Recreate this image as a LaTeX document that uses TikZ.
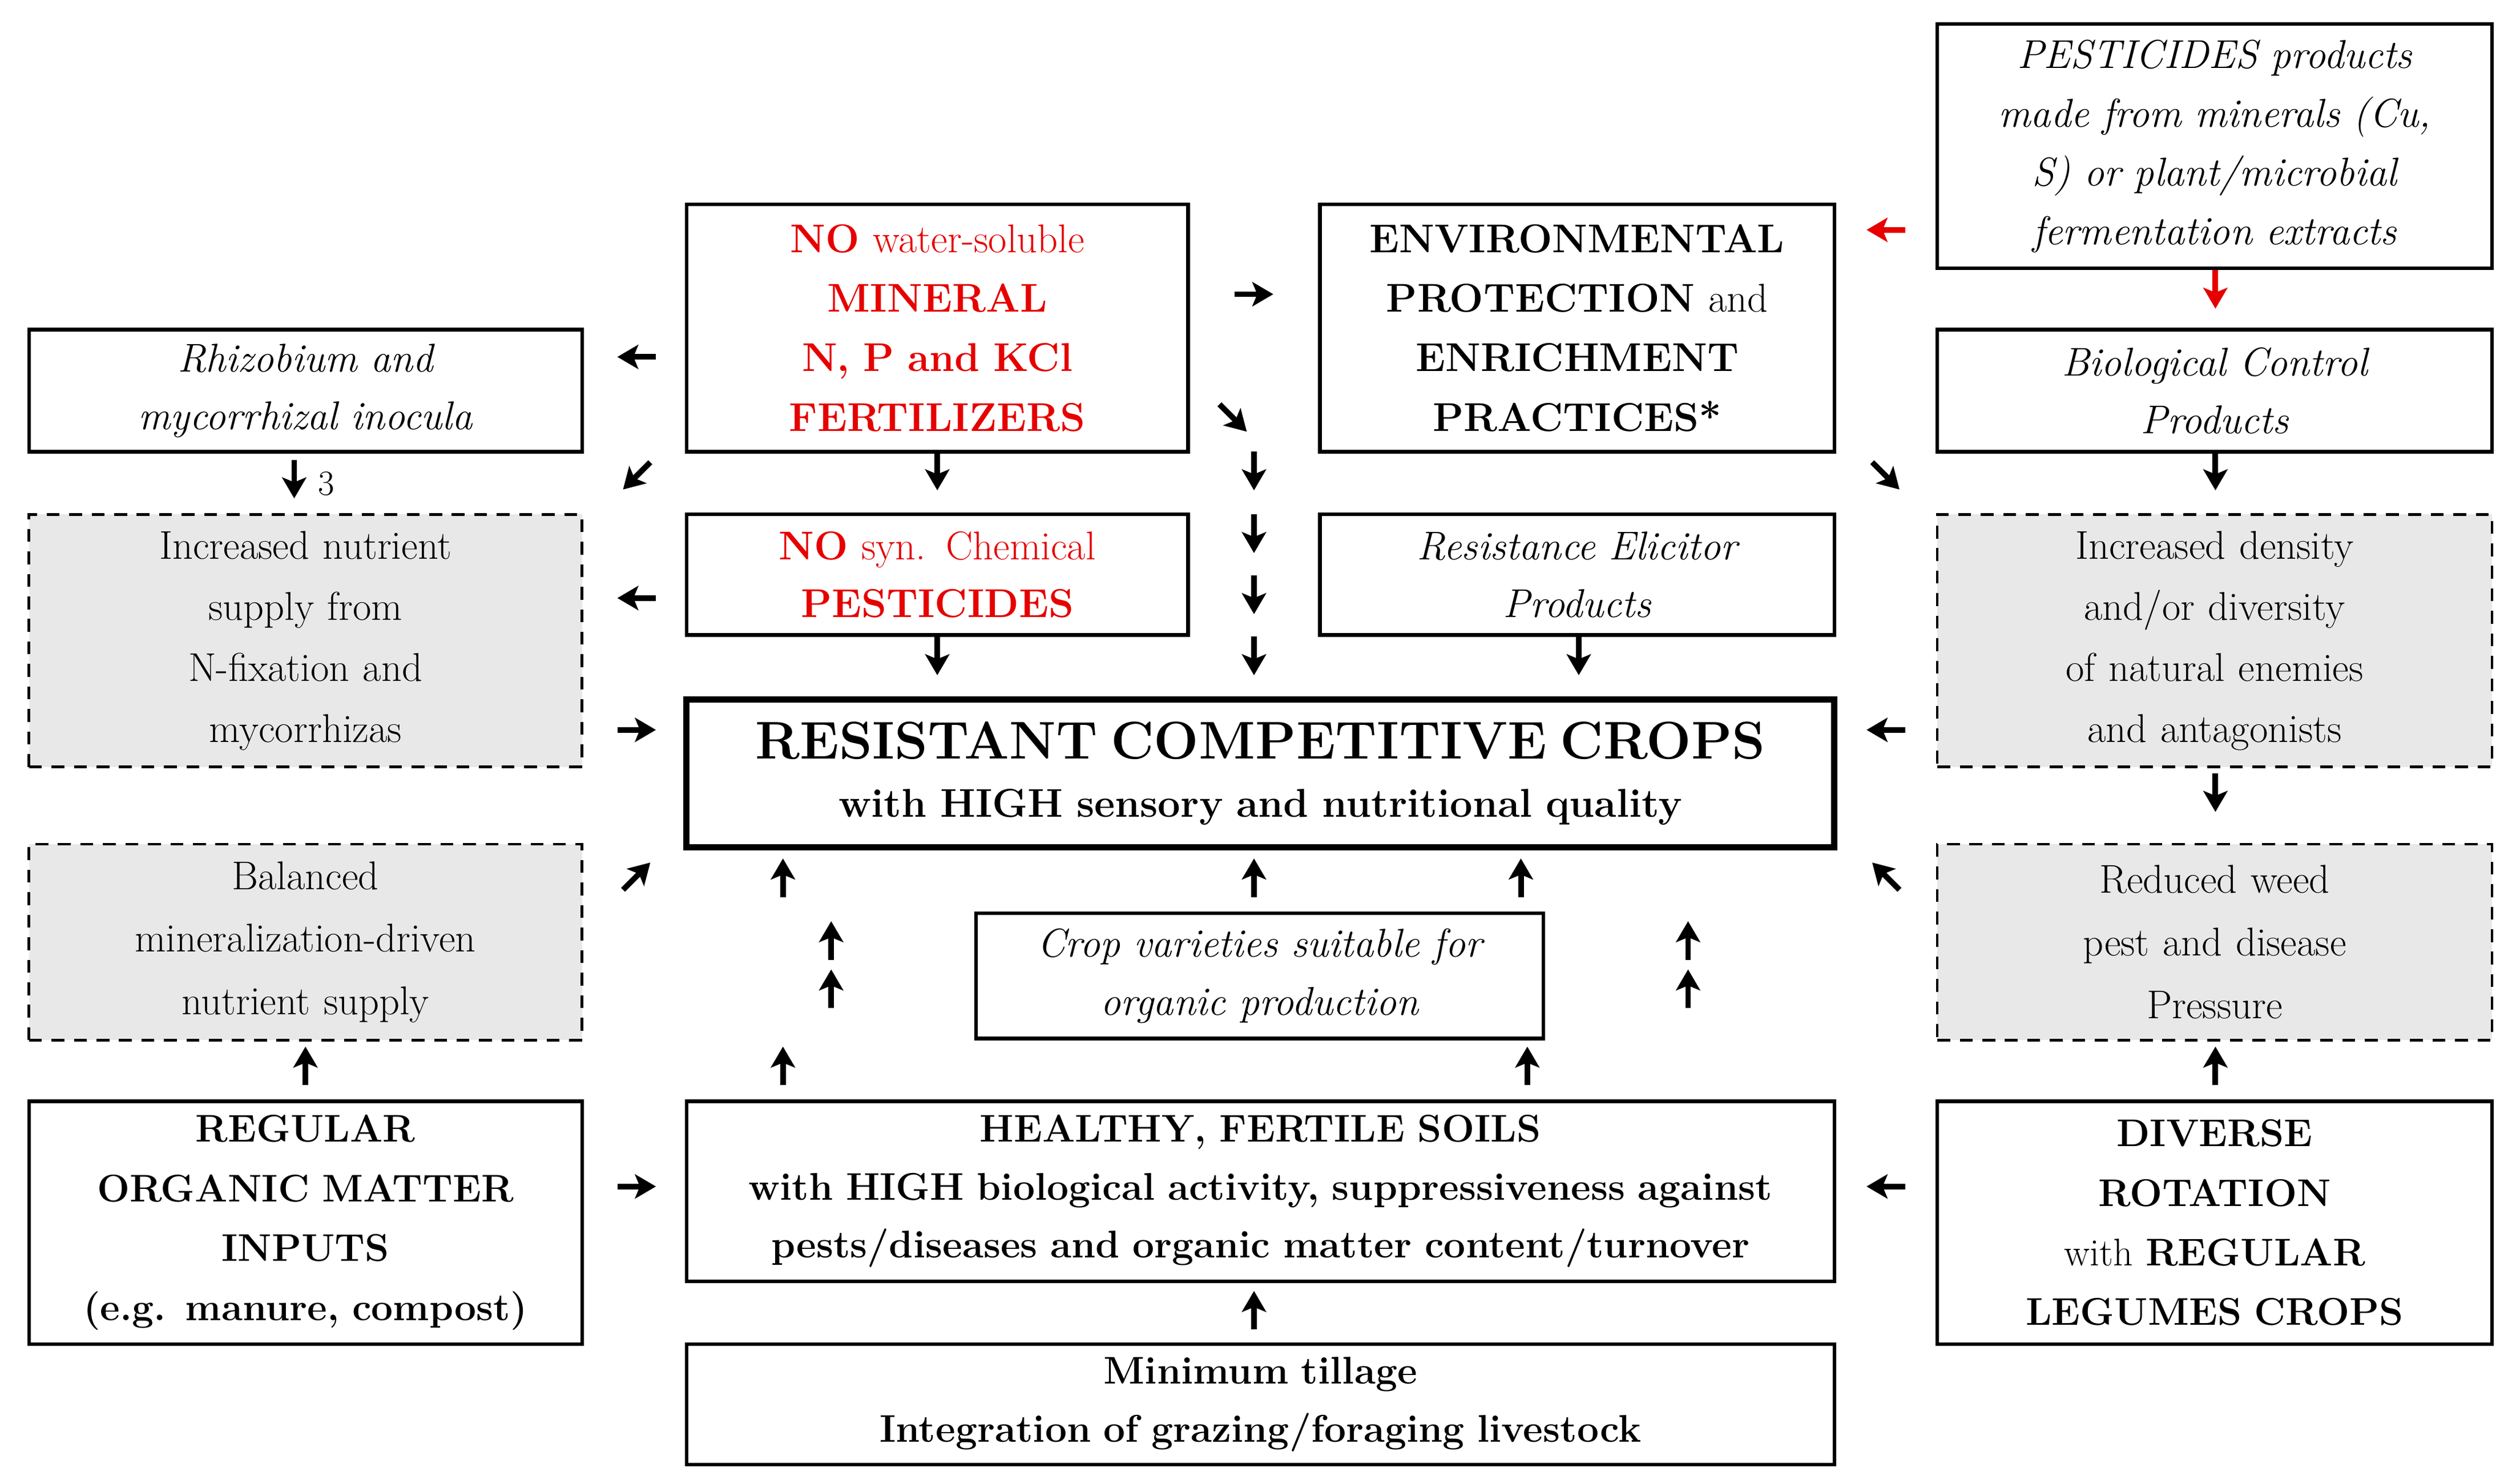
\documentclass[tikz,border=0pt]{standalone}
\usepackage{fontspec}
\usetikzlibrary{arrows.meta}
\definecolor{rd}{RGB}{230,0,0}
\definecolor{gr}{RGB}{232,232,232}
\newcommand\bx[7]{\node[box,#6,minimum width={#4pt-#2pt},minimum height={#5pt-#3pt},text width={#4pt-#2pt-16pt}] (#1) at ({(#2+#4)/2},{(#3+#5)/2}) {#7};}
\newcommand\ar[4][black]{\draw[arr,#1] (#2,#3) ++(#4+180:12) -- ++(#4:24);}
\begin{document}
\begin{tikzpicture}[x=1pt,y=-1pt,
 box/.style={draw,line width=2.2pt,inner sep=0pt,align=center,font=\fontsize{25}{36}\selectfont},
 dbox/.style={dashed,line width=1.6pt,dash pattern=on 8pt off 6pt,fill=gr},
 arr/.style={line width=3.5pt,-{Stealth[length=13pt,width=15pt,inset=3pt]}}]
\useasboundingbox (0,0) rectangle (1560,923);
\bx{pest}{1205}{15}{1550}{167}{font=\fontsize{25}{36.5}\selectfont\itshape}{PESTICIDES products\\made from minerals (Cu,\\S) or plant/microbial\\fermentation extracts}
\bx{nows}{427}{127}{739}{281}{text=rd,font=\fontsize{25}{37}\selectfont}{\textbf{NO} water-soluble\\\textbf{MINERAL}\\\textbf{N, P and KCl}\\\textbf{FERTILIZERS}}
\bx{env}{821}{127}{1141}{281}{font=\fontsize{25}{37}\selectfont}{\textbf{ENVIRONMENTAL}\\\textbf{PROTECTION} and\\\textbf{ENRICHMENT}\\\textbf{PRACTICES*}}
\bx{rhiz}{18}{205}{362}{281}{font=\fontsize{25}{36}\selectfont\itshape}{Rhizobium and\\mycorrhizal inocula}
\bx{bio}{1205}{205}{1550}{281}{font=\fontsize{25}{36}\selectfont\itshape}{Biological Control\\Products}
\bx{incn}{18}{320}{362}{477}{dbox,font=\fontsize{25}{38}\selectfont}{Increased nutrient\\supply from\\N-fixation and\\mycorrhizas}
\bx{nosyn}{427}{320}{739}{395}{text=rd}{\textbf{NO} syn. Chemical\\\textbf{PESTICIDES}}
\bx{res}{821}{320}{1141}{395}{font=\fontsize{25}{36}\selectfont\itshape}{Resistance Elicitor\\Products}
\bx{incd}{1205}{320}{1550}{477}{dbox,font=\fontsize{25}{38}\selectfont}{Increased density\\and/or diversity\\of natural enemies\\and antagonists}
\bx{crops}{427}{435}{1141}{527}{line width=4pt}{{\fontsize{33}{40}\selectfont\bfseries RESISTANT COMPETITIVE CROPS}\\\textbf{with HIGH sensory and nutritional quality}}
\bx{bal}{18}{525}{362}{647}{dbox,font=\fontsize{25}{39}\selectfont}{Balanced\\mineralization-driven\\nutrient supply}
\bx{red}{1205}{525}{1550}{647}{dbox,font=\fontsize{25}{39}\selectfont}{Reduced weed\\pest and disease\\Pressure}
\bx{var}{607}{568}{960}{646}{font=\fontsize{25}{36}\selectfont\itshape}{Crop varieties suitable for\\organic production}
\bx{reg}{18}{685}{362}{836}{font=\fontsize{24}{37}\selectfont\bfseries}{REGULAR\\ORGANIC MATTER\\INPUTS\\(e.g. manure, compost)}
\bx{soil}{427}{685}{1141}{797}{font=\fontsize{24}{36}\selectfont\bfseries}{HEALTHY, FERTILE SOILS\\with HIGH biological activity, suppressiveness against\\pests/diseases and organic matter content/turnover}
\bx{div}{1205}{685}{1550}{836}{font=\fontsize{24}{37}\selectfont}{\textbf{DIVERSE}\\\textbf{ROTATION}\\with \textbf{REGULAR}\\\textbf{LEGUMES CROPS}}
\bx{till}{427}{836}{1141}{911}{font=\fontsize{24}{36}\selectfont\bfseries}{Minimum tillage\\Integration of grazing/foraging livestock}
\ar[rd]{1173}{143}{180}
\ar[rd]{1378}{180}{90}
\ar{780}{183}{0}
\ar{396}{222}{180}
\ar{767}{260}{45}
\ar{183}{298}{90}
\node[font=\fontsize{22}{24}\selectfont] (three) at (203,301) {3};
\ar{396}{296}{135}
\ar{583}{293}{90}
\ar{780}{293}{90}
\ar{1173}{296}{45}
\ar{1378}{293}{90}
\ar{396}{372}{180}
\ar{780}{332}{90}
\ar{780}{370}{90}
\ar{583}{408}{90}
\ar{780}{408}{90}
\ar{982}{408}{90}
\ar{396}{454}{0}
\ar{1173}{454}{180}
\ar{1378}{493}{90}
\ar{396}{545}{315}
\ar{487}{546}{270}
\ar{780}{546}{270}
\ar{946}{546}{270}
\ar{1173}{545}{225}
\ar{517}{585}{270}
\ar{517}{615}{270}
\ar{1050}{585}{270}
\ar{1050}{615}{270}
\ar{190}{663}{270}
\ar{487}{663}{270}
\ar{950}{663}{270}
\ar{1378}{663}{270}
\ar{396}{738}{0}
\ar{1173}{738}{180}
\ar{780}{815}{270}
\end{tikzpicture}
\end{document}
